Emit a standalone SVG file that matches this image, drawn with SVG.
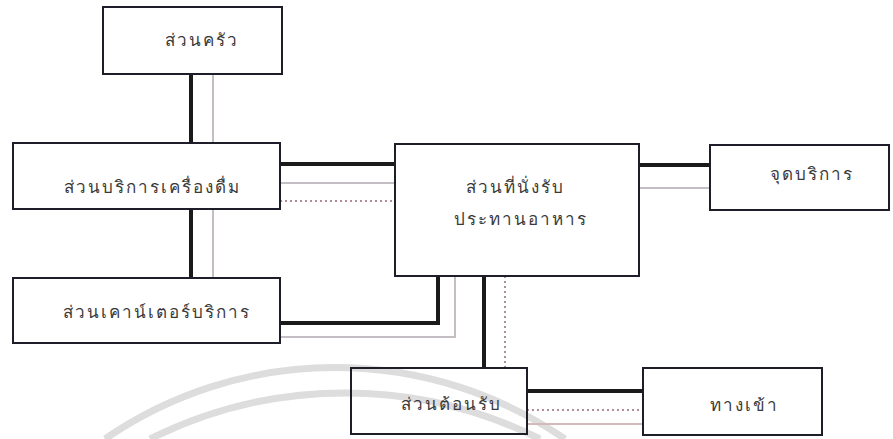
<svg xmlns="http://www.w3.org/2000/svg" width="893" height="439" viewBox="0 0 893 439">
<style>
.box{fill:none;stroke:#1e1e2a;stroke-width:2}
.lbl{font-family:"Noto Sans","DejaVu Sans",sans-serif;font-size:17px;fill:#3a3a3a;text-anchor:middle;letter-spacing:2px}
.thick{stroke:#1a1a1a;stroke-width:4;fill:none}
.grey{stroke:#c4bec4;stroke-width:2;fill:none}
.dot{stroke:#b08c9c;stroke-width:2;stroke-dasharray:2 3;fill:none}
.wm{stroke:#dddddd;stroke-width:7;fill:none}
</style>
<rect x="0" y="0" width="893" height="439" fill="#ffffff"/>
<g id="watermark">
<path class="wm" d="M105 439 A406 406 0 0 1 565 439"/>
<path class="wm" d="M150 439 A436 436 0 0 1 540 439"/>
</g>
<g id="connectors">
<line class="thick" x1="191" y1="74" x2="191" y2="143"/>
<line class="grey" x1="213" y1="74" x2="213" y2="143"/>
<line class="thick" x1="191" y1="209" x2="191" y2="278"/>
<line class="grey" x1="213" y1="209" x2="213" y2="278"/>
<line class="thick" x1="280" y1="164" x2="395" y2="164"/>
<line class="grey" x1="280" y1="183" x2="395" y2="183"/>
<line class="dot" x1="280" y1="201" x2="395" y2="201"/>
<line class="thick" x1="639" y1="165" x2="710" y2="165"/>
<line class="grey" x1="639" y1="188" x2="710" y2="188"/>
<polyline class="thick" points="280,323 438,323 438,276"/>
<polyline class="grey" points="280,337 455,337 455,276"/>
<line class="thick" x1="484" y1="276" x2="484" y2="368"/>
<line class="dot" x1="505" y1="276" x2="505" y2="368"/>
<line class="thick" x1="527" y1="391" x2="643" y2="391"/>
<line class="dot" x1="527" y1="410" x2="643" y2="410"/>
<line class="grey" x1="527" y1="424" x2="643" y2="424" style="stroke:#d4b8bc"/>
</g>
<g id="kitchen">
<rect class="box" x="103" y="7" width="179" height="67"/>
<text class="lbl" x="202" y="46">ส่วนครัว</text>
</g>
<g id="drinks">
<rect class="box" x="13" y="143" width="267" height="66"/>
<text class="lbl" x="152" y="193">ส่วนบริการเครื่องดื่ม</text>
</g>
<g id="dining">
<rect class="box" x="395" y="144" width="244" height="132"/>
<text class="lbl" x="515" y="193">ส่วนที่นั่งรับ</text>
<text class="lbl" x="521" y="225">ประทานอาหาร</text>
</g>
<g id="service-point">
<rect class="box" x="710" y="145" width="179" height="65"/>
<text class="lbl" x="812" y="180">จุดบริการ</text>
</g>
<g id="counter">
<rect class="box" x="13" y="278" width="267" height="65"/>
<text class="lbl" x="157" y="318">ส่วนเคาน์เตอร์บริการ</text>
</g>
<g id="reception">
<rect class="box" x="351" y="368" width="176" height="66"/>
<text class="lbl" x="451" y="410">ส่วนต้อนรับ</text>
</g>
<g id="entrance">
<rect class="box" x="643" y="368" width="179" height="67"/>
<text class="lbl" x="744" y="411">ทางเข้า</text>
</g>
</svg>
